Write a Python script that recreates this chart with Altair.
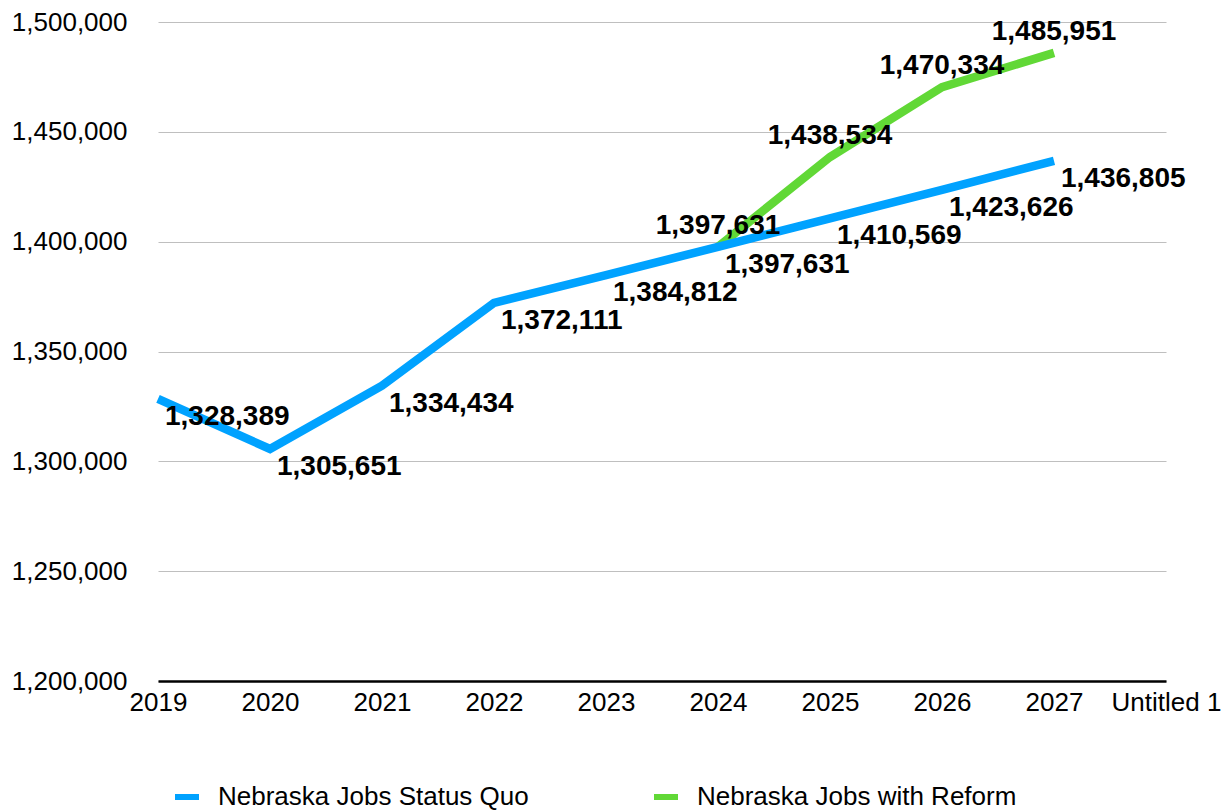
import altair as alt
import pandas as pd

years = ["2019", "2020", "2021", "2022", "2023", "2024", "2025", "2026", "2027", "Untitled 1"]
status_quo_years = ["2019", "2020", "2021", "2022", "2023", "2024", "2025", "2026", "2027"]
status_quo = [1328389, 1305651, 1334434, 1372111, 1384812, 1397631, 1410569, 1423626, 1436805]
reform_years = ["2024", "2025", "2026", "2027"]
reform = [1397631, 1438534, 1470334, 1485951]
series_names = ["Nebraska Jobs Status Quo", "Nebraska Jobs with Reform"]
series_colors = ["#00A2FF", "#61D836"]
y_ticks = [1200000, 1250000, 1300000, 1350000, 1400000, 1450000, 1500000]

rows = []
for yr, v in zip(status_quo_years, status_quo):
    rows.append({"year": yr, "value": v, "series": series_names[0]})
for yr, v in zip(reform_years, reform):
    rows.append({"year": yr, "value": v, "series": series_names[1]})
df = pd.DataFrame(rows)

FONT = "Liberation Sans"

x_enc = alt.X("year:N", scale=alt.Scale(type="point", domain=years, padding=0),
              sort=years,
              axis=alt.Axis(title=None, labelAngle=0, ticks=False, domain=True,
                            domainColor="#000000", domainWidth=2.5, grid=False,
                            labelFontSize=26, labelFont=FONT, labelColor="#000000",
                            labelPadding=8))
y_enc = alt.Y("value:Q", scale=alt.Scale(domain=[1200000, 1500000], nice=False, zero=False),
              axis=alt.Axis(title=None, values=y_ticks, format=",.0f", ticks=False,
                            domain=False, grid=True, gridColor="#BFBFBF", gridWidth=1,
                            labelFontSize=26, labelFont=FONT, labelColor="#000000",
                            labelPadding=31))
color_enc = alt.Color("series:N",
                      scale=alt.Scale(domain=series_names, range=series_colors),
                      legend=alt.Legend(title=None, orient="none", direction="horizontal",
                                        legendX=14, legendY=760, symbolType="stroke",
                                        symbolSize=576, symbolStrokeWidth=6,
                                        labelFontSize=26, labelFont=FONT, labelLimit=0,
                                        labelColor="#000000", labelOffset=16,
                                        columnPadding=113, padding=0))

base = alt.Chart(df)

reform_line = base.transform_filter(alt.datum.series == series_names[1]).mark_line(
    strokeWidth=8.5, strokeCap="butt", strokeJoin="miter").encode(x=x_enc, y=y_enc, color=color_enc)
sq_line = base.transform_filter(alt.datum.series == series_names[0]).mark_line(
    strokeWidth=8.5, strokeCap="butt", strokeJoin="miter").encode(x=x_enc, y=y_enc, color=color_enc)

sq_text = base.transform_filter(alt.datum.series == series_names[0]).mark_text(
    align="left", baseline="middle", dx=7, dy=18, fontSize=28, fontWeight="bold",
    font=FONT, color="#000000").encode(x=x_enc, y=y_enc, text=alt.Text("value:Q", format=",.0f"))
reform_text = base.transform_filter(alt.datum.series == series_names[1]).mark_text(
    align="center", baseline="middle", dx=0, dy=-21, fontSize=28, fontWeight="bold",
    font=FONT, color="#000000").encode(x=x_enc, y=y_enc, text=alt.Text("value:Q", format=",.0f"))

chart = alt.layer(reform_line, sq_line, sq_text, reform_text).properties(
    width=1008, height=659,
    autosize=alt.AutoSizeParams(type="none"),
    padding={"left": 150, "top": 14, "right": 57, "bottom": 129},
).configure(background="#ffffff").configure_view(stroke=None)

chart.save("out.html", embed_options={"renderer": "svg", "actions": False})
